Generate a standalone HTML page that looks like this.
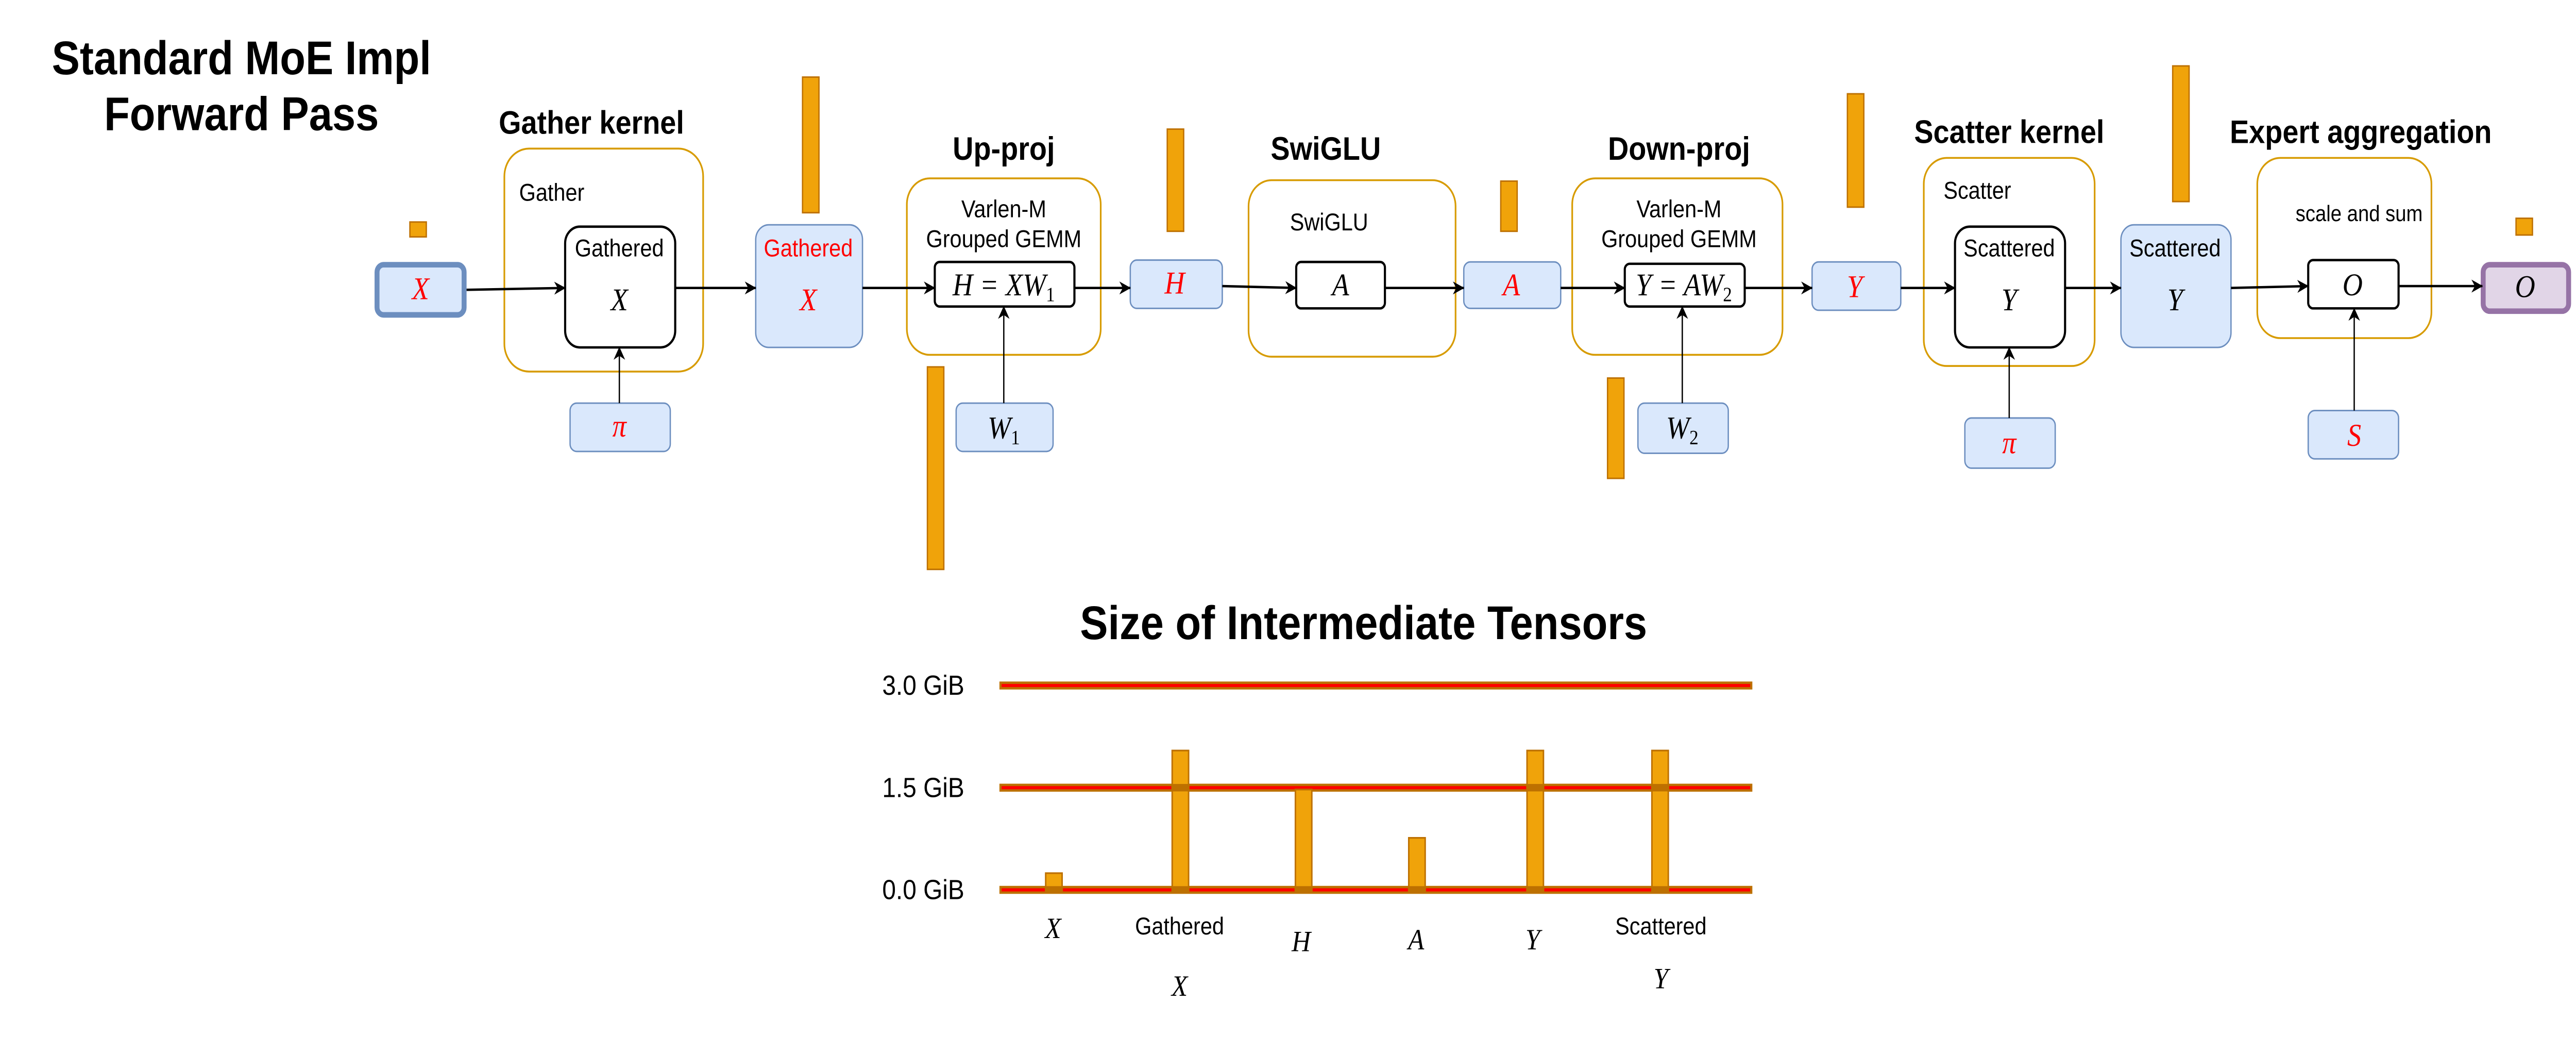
<!DOCTYPE html>
<html><head><meta charset="utf-8"><style>
html,body{margin:0;padding:0;background:#fff;width:100%;height:100%;overflow:hidden;}
svg{display:block;width:100vw;height:100vh;}
.t{font-family:"Liberation Sans",sans-serif;}
.m{font-family:"Liberation Serif",serif;font-style:italic;}
</style></head><body>
<svg viewBox="0 0 1568 558.2" preserveAspectRatio="none" xmlns="http://www.w3.org/2000/svg" overflow="hidden">
<defs>
<marker id="ah" viewBox="0 0 10 10" refX="9.5" refY="5" markerWidth="7" markerHeight="7" markerUnits="userSpaceOnUse" orient="auto">
<path d="M0,0 L10,5 L0,10 L3,5 z" fill="#000"/>
</marker>
</defs>
<g class="t" font-weight="bold" text-anchor="middle" fill="#000">
<text x="147" y="40" font-size="25.5">Standard MoE Impl</text>
<text x="147" y="70" font-size="25.5">Forward Pass</text>
<text x="360" y="72" font-size="17.5">Gather kernel</text>
<text x="611" y="86" font-size="17.5">Up-proj</text>
<text x="807" y="86" font-size="17.5">SwiGLU</text>
<text x="1022" y="86" font-size="17.5">Down-proj</text>
<text x="1223" y="77" font-size="17.5">Scatter kernel</text>
<text x="1437" y="77" font-size="17.5">Expert aggregation</text>
<text x="830" y="344" font-size="25.5">Size of Intermediate Tensors</text>
</g>
<g fill="none" stroke="#d79b00" stroke-width="1">
<rect x="307" y="80" width="121" height="120" rx="15"/>
<rect x="552" y="96" width="118" height="95" rx="14"/>
<rect x="760" y="97" width="126" height="95" rx="14"/>
<rect x="957" y="96" width="128" height="95" rx="14"/>
<rect x="1171" y="85" width="104" height="112" rx="14"/>
<rect x="1374" y="85" width="106" height="97" rx="14"/>
</g>
<g class="t" font-size="13" fill="#000">
<text x="316" y="108">Gather</text>
<text x="611" y="117" text-anchor="middle">Varlen-M</text>
<text x="611" y="133" text-anchor="middle">Grouped GEMM</text>
<text x="809" y="124" text-anchor="middle">SwiGLU</text>
<text x="1022" y="117" text-anchor="middle">Varlen-M</text>
<text x="1022" y="133" text-anchor="middle">Grouped GEMM</text>
<text x="1183" y="107">Scatter</text>
<text x="1436" y="119" text-anchor="middle" font-size="12">scale and sum</text>
</g>
<g fill="#dae8fc" stroke="#6c8ebf" stroke-width="0.8">
<rect x="229.5" y="142.5" width="53" height="27" rx="4" stroke-width="3"/>
<rect x="460" y="121" width="65" height="66" rx="8"/>
<rect x="347" y="217" width="61" height="26" rx="4"/>
<rect x="582" y="217" width="59" height="26" rx="4"/>
<rect x="688" y="140" width="56" height="26" rx="4"/>
<rect x="891" y="141" width="59" height="25" rx="4"/>
<rect x="997" y="217" width="55" height="27" rx="4"/>
<rect x="1103" y="141" width="54" height="26" rx="4"/>
<rect x="1196" y="225" width="55" height="27" rx="4"/>
<rect x="1291" y="121" width="67" height="66" rx="8"/>
<rect x="1405" y="221" width="55" height="26" rx="4"/>
</g>
<rect x="1511.5" y="142.5" width="52" height="25" rx="4" fill="#e1d5e7" stroke="#9673a6" stroke-width="3"/>
<g fill="#fff" stroke="#000" stroke-width="1.3">
<rect x="344" y="122" width="67" height="65" rx="9"/>
<rect x="569" y="141" width="85" height="24" rx="3"/>
<rect x="789" y="141" width="54" height="25" rx="3"/>
<rect x="989" y="142" width="73" height="23" rx="3"/>
<rect x="1190" y="122" width="67" height="65" rx="9"/>
<rect x="1405" y="140" width="55" height="26" rx="3"/>
</g>
<g class="t" font-size="13" text-anchor="middle">
<text x="377" y="138" fill="#000">Gathered</text>
<text x="492" y="138" fill="#ff0000">Gathered</text>
<text x="1223" y="138" fill="#000">Scattered</text>
<text x="1324" y="138" fill="#000">Scattered</text>
</g>
<g class="m" font-size="17" text-anchor="middle">
<text x="256" y="161" fill="#ff0000">X</text>
<text x="377" y="167" fill="#000">X</text>
<text x="492" y="167" fill="#ff0000">X</text>
<text x="377" y="235" fill="#ff0000">π</text>
<text x="611" y="159" fill="#000">H = XW<tspan font-style="normal" font-size="11" dy="3">1</tspan></text>
<text x="611" y="236" fill="#000">W<tspan font-style="normal" font-size="11" dy="3">1</tspan></text>
<text x="715" y="158" fill="#ff0000">H</text>
<text x="816" y="159" fill="#000">A</text>
<text x="920" y="159" fill="#ff0000">A</text>
<text x="1025" y="159" fill="#000">Y = AW<tspan font-style="normal" font-size="11" dy="3">2</tspan></text>
<text x="1024" y="236" fill="#000">W<tspan font-style="normal" font-size="11" dy="3">2</tspan></text>
<text x="1129" y="160" fill="#ff0000">Y</text>
<text x="1223" y="167" fill="#000">Y</text>
<text x="1324" y="167" fill="#000">Y</text>
<text x="1223" y="244" fill="#ff0000">π</text>
<text x="1432" y="159" fill="#000">O</text>
<text x="1433" y="240" fill="#ff0000">S</text>
<text x="1537" y="160" fill="#000">O</text>
</g>
<g stroke="#000" stroke-width="1.3" fill="none" marker-end="url(#ah)">
<path d="M284,156 L344,155"/>
<path d="M411,155 L460,155"/>
<path d="M525,155 L569,155"/>
<path d="M654,155 L688,155"/>
<path d="M744,154 L789,155"/>
<path d="M843,155 L891,155"/>
<path d="M950,155 L989,155"/>
<path d="M1062,155 L1103,155"/>
<path d="M1157,155 L1190,155"/>
<path d="M1257,155 L1291,155"/>
<path d="M1358,155 L1405,154"/>
<path d="M1460,154 L1511,154"/>
<path d="M377,217 L377,187" stroke-width="0.8"/>
<path d="M611,217 L611,165" stroke-width="0.8"/>
<path d="M1024,217 L1024,165" stroke-width="0.8"/>
<path d="M1223,225 L1223,187" stroke-width="0.8"/>
<path d="M1433,221 L1433,166" stroke-width="0.8"/>
</g>
<g fill="#f0a30a" stroke="#bd7000" stroke-width="0.8">
<rect x="249.5" y="119.5" width="10" height="8"/>
<rect x="488.5" y="41.5" width="10" height="73"/>
<rect x="564.5" y="197.5" width="10" height="109"/>
<rect x="710.5" y="69.5" width="10" height="55"/>
<rect x="913.5" y="97.5" width="10" height="27"/>
<rect x="978.5" y="203.5" width="10" height="54"/>
<rect x="1124.5" y="50.5" width="10" height="61"/>
<rect x="1322.5" y="35.5" width="10" height="73"/>
<rect x="1531.5" y="117.5" width="10" height="9"/>
</g>
<g fill="#ff0000" stroke="#bd7000" stroke-width="1.3">
<rect x="609" y="367.5" width="457" height="3"/>
<rect x="609" y="422.5" width="457" height="3"/>
<rect x="609" y="477.5" width="457" height="3"/>
</g>
<g fill="#f0a30a" stroke="#bd7000" stroke-width="0.9">
<rect x="636.5" y="470" width="10" height="9"/>
<rect x="713.5" y="404" width="10" height="75"/>
<rect x="788.5" y="425" width="10" height="54"/>
<rect x="857.5" y="451" width="10" height="28"/>
<rect x="929.5" y="404" width="10" height="75"/>
<rect x="1005.5" y="404" width="10" height="75"/>
</g>
<g fill="#bd7000">
<rect x="636" y="477" width="11" height="4"/>
<rect x="713" y="477" width="11" height="4"/>
<rect x="788" y="477" width="11" height="4"/>
<rect x="857" y="477" width="11" height="4"/>
<rect x="929" y="477" width="11" height="4"/>
<rect x="1005" y="477" width="11" height="4"/>
<rect x="713" y="422" width="11" height="4"/>
<rect x="929" y="422" width="11" height="4"/>
<rect x="1005" y="422" width="11" height="4"/>
</g>
<g class="t" font-size="15" text-anchor="end" fill="#000">
<text x="587" y="374">3.0 GiB</text>
<text x="587" y="429">1.5 GiB</text>
<text x="587" y="484">0.0 GiB</text>
</g>
<g class="t" font-size="13" text-anchor="middle" fill="#000">
<text x="718" y="503">Gathered</text>
<text x="1011" y="503">Scattered</text>
</g>
<g class="m" font-size="16" text-anchor="middle" fill="#000">
<text x="641" y="505">X</text>
<text x="718" y="536">X</text>
<text x="792" y="512">H</text>
<text x="862" y="511">A</text>
<text x="933" y="511">Y</text>
<text x="1011" y="532">Y</text>
</g>
</svg>
</body></html>
